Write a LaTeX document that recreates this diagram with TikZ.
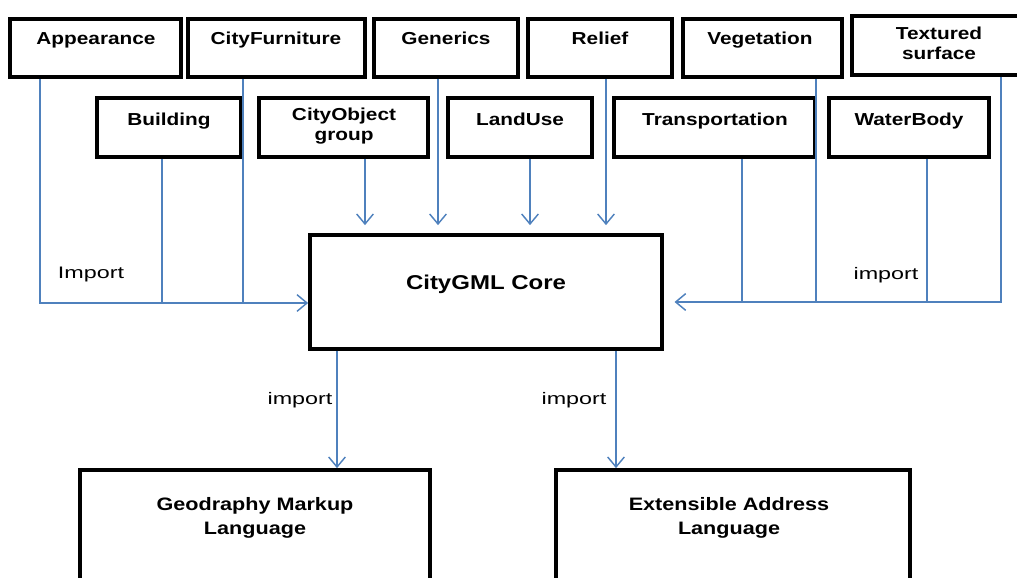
\documentclass[tikz,border=0pt]{standalone}
\usepackage{fontspec}
\setmainfont{Liberation Sans}
\newfontfamily\wfont[FakeStretch=1.2]{Liberation Sans}
\newfontfamily\ifont[FakeStretch=1.4]{Liberation Sans}
\usetikzlibrary{arrows.meta,fit}
\definecolor{lineblue}{HTML}{4F81BD}
\tikzset{
  box/.style={draw=black, line width=2.8pt, inner sep=0pt, fill=white},
  lbl/.style={font=\wfont\fontsize{13}{15}\selectfont\bfseries, align=center, inner sep=0pt, anchor=north},
  corelbl/.style={font=\wfont\fontsize{15}{18}\selectfont\bfseries, inner sep=0pt, anchor=north},
  botlbl/.style={font=\wfont\fontsize{13.5}{18.5}\selectfont\bfseries, align=center, inner sep=0pt, anchor=north},
  imp/.style={font=\ifont\fontsize{12.5}{14}\selectfont, inner sep=0pt, anchor=north},
  conn/.style={draw=lineblue, line width=1.1pt},
  arr/.style={conn, -{Straight Barb[length=7.5pt,width=12.5pt,line width=1.1pt]}},
}
\begin{document}
\begin{tikzpicture}[x=0.75pt,y=-0.75pt]
\useasboundingbox (0,0) rectangle (1017,578);

% top row boxes
\node[box, fit={(10,19) (181,77)}] (app) {};
\node[box, fit={(188,19) (365,77)}] (cf) {};
\node[box, fit={(374,19) (518,77)}] (gen) {};
\node[box, fit={(528,19) (672,77)}] (rel) {};
\node[box, fit={(683,19) (842,77)}] (veg) {};
\node[box, fit={(852,16) (1030,75)}] (tex) {};
% second row boxes
\node[box, fit={(97,98) (241,157)}] (bld) {};
\node[box, fit={(259,98) (428,157)}] (cog) {};
\node[box, fit={(448,98) (592,157)}] (lu) {};
\node[box, fit={(614,98) (815,157)}] (tra) {};
\node[box, fit={(829,98) (989,157)}] (wb) {};
% core and bottom boxes
\node[box, fit={(310,235) (662,349)}] (core) {};
\node[box, fit={(80,470) (430,590)}] (gml) {};
\node[box, fit={(556,470) (910,590)}] (xal) {};

% labels
\node[lbl] (appT) at (96,32) {Appearance};
\node[lbl] (cfT) at (276,32) {CityFurniture};
\node[lbl] (genT) at (446,32) {Generics};
\node[lbl] (relT) at (600,32) {Relief};
\node[lbl] (vegT) at (760,32) {Vegetation};
\node[lbl] (texT) at (939,27) {Textured\\surface};
\node[lbl] (bldT) at (169,113) {Building};
\node[lbl] (cogT) at (344,108) {CityObject\\group};
\node[lbl] (luT) at (520,113) {LandUse};
\node[lbl] (traT) at (715,113) {Transportation};
\node[lbl] (wbT) at (909,113) {WaterBody};
\node[corelbl] (coreT) at (486,275) {CityGML Core};
\node[botlbl] (gmlT) at (255,497) {Geodraphy Markup\\Language};
\node[botlbl] (xalT) at (729,497) {Extensible Address\\Language};

% x positions of connectors
\coordinate (cA) at (40,0);
\coordinate (cB) at (162,0);
\coordinate (cCF) at (243,0);
\coordinate (cCO) at (365,0);
\coordinate (cGe) at (438,0);
\coordinate (cLU) at (530,0);
\coordinate (cRe) at (606,0);
\coordinate (cTr) at (742,0);
\coordinate (cVe) at (816,0);
\coordinate (cWB) at (927,0);
\coordinate (cTe) at (1001,0);
\coordinate (cG) at (337,0);
\coordinate (cX) at (616,0);
\coordinate (hl) at (0,303);
\coordinate (hr) at (0,302);

% left group
\draw[arr] (app.south -| cA) |- (core.west |- hl);
\draw[conn] (bld.south -| cB) -- (cB |- hl);
\draw[conn] (cf.south -| cCF) -- (cCF |- hl);
% direct arrows from top
\draw[arr, shorten >=6pt] (cog.south -| cCO) -- (core.north -| cCO);
\draw[arr, shorten >=6pt] (gen.south -| cGe) -- (core.north -| cGe);
\draw[arr, shorten >=6pt] (lu.south -| cLU) -- (core.north -| cLU);
\draw[arr, shorten >=6pt] (rel.south -| cRe) -- (core.north -| cRe);
% right group
\draw[arr, shorten >=8pt] (tex.south -| cTe) |- (core.east |- hr);
\draw[conn] (tra.south -| cTr) -- (cTr |- hr);
\draw[conn] (veg.south -| cVe) -- (cVe |- hr);
\draw[conn] (wb.south -| cWB) -- (cWB |- hr);
% bottom arrows
\draw[arr] (core.south -| cG) -- (gml.north -| cG);
\draw[arr] (core.south -| cX) -- (xal.north -| cX);

% import labels
\node[imp] (impL) at (91,267) {Import};
\node[imp] (impR) at (886,267) {import};
\node[imp] (impG) at (300,392) {import};
\node[imp] (impX) at (574,392) {import};
\end{tikzpicture}
\end{document}
